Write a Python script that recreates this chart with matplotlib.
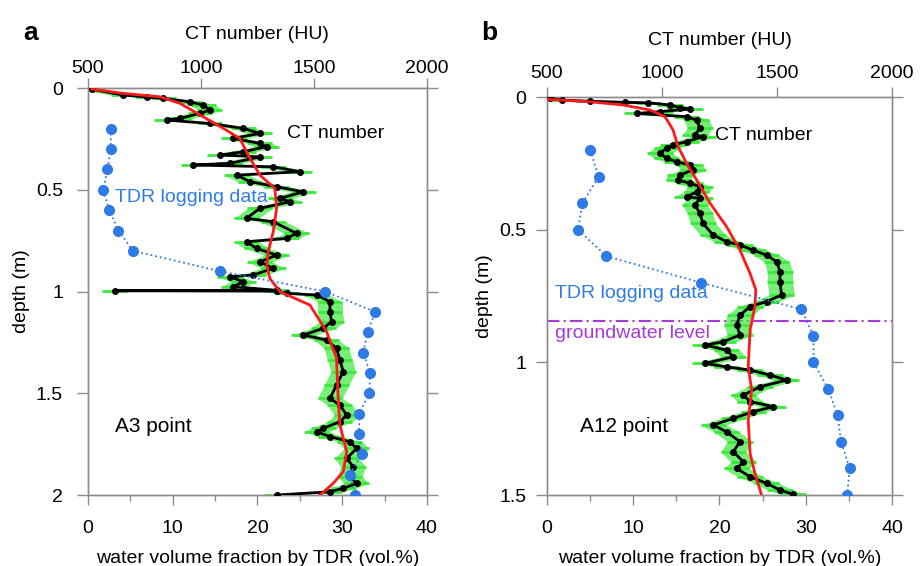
import numpy as np
import matplotlib.pyplot as plt

plt.rcParams['font.family'] = ['Liberation Sans', 'DejaVu Sans']

# ---- panel a (A3 point) ----
a_ct_depth = [0.006, 0.034, 0.044, 0.051, 0.067, 0.084, 0.108, 0.124, 0.149, 0.157,
              0.174, 0.198, 0.223, 0.247, 0.272, 0.288, 0.313, 0.329, 0.338, 0.37,
              0.378, 0.387, 0.411, 0.428, 0.46, 0.485, 0.51, 0.542, 0.559, 0.591,
              0.64, 0.657, 0.714, 0.739, 0.755, 0.788, 0.821, 0.854, 0.886, 0.919,
              0.927, 0.952, 0.976, 0.994, 0.996, 0.998, 1.009, 1.017, 1.05, 1.099,
              1.148, 1.181, 1.214, 1.238, 1.279, 1.337, 1.394, 1.459, 1.525, 1.558,
              1.607, 1.64, 1.672, 1.689, 1.713, 1.738, 1.771, 1.82, 1.861, 1.91,
              1.943, 1.967, 1.984, 2.0]
a_ct = [516, 655, 761, 833, 951, 1010, 1040, 996, 907, 848,
        1040, 1187, 1261, 1143, 1261, 1291, 1187, 1084, 1261, 1128,
        966, 1320, 1438, 1158, 1217, 1335, 1453, 1350, 1394, 1261,
        1202, 1320, 1423, 1379, 1202, 1246, 1335, 1261, 1320, 1231,
        1128, 1187, 1143, 1336, 619, 1336, 1379, 1512, 1571, 1571,
        1578, 1541, 1453, 1556, 1600, 1615, 1630, 1600, 1571, 1615,
        1645, 1615, 1541, 1512, 1571, 1659, 1689, 1645, 1674, 1659,
        1689, 1630, 1571, 1335]
a_fit_depth = [0.005, 0.026, 0.043, 0.075, 0.141, 0.198, 0.247, 0.329, 0.428, 0.493,
               0.591, 0.706, 0.804, 0.87, 0.935, 1.001, 1.066, 1.197, 1.327, 1.494,
               1.656, 1.787, 1.885, 1.943, 2.0]
a_fit = [517, 655, 819, 907, 1010, 1099, 1172, 1209, 1261, 1327,
         1335, 1320, 1298, 1291, 1305, 1350, 1482, 1556, 1600, 1606,
         1615, 1645, 1630, 1585, 1527]
a_tdr_depth = [0.2, 0.3, 0.4, 0.5, 0.6, 0.7, 0.8, 0.9, 1.0, 1.1,
               1.2, 1.3, 1.4, 1.5, 1.6, 1.7, 1.8, 1.9, 2.0]
a_tdr = [2.7, 2.7, 2.3, 1.8, 2.5, 3.6, 5.3, 15.6, 28.0, 33.9,
         33.0, 32.5, 33.3, 33.2, 32.0, 32.0, 32.3, 30.9, 31.5]

# ---- panel b (A12 point) ----
b_ct_depth = [0.005, 0.012, 0.016, 0.02, 0.022, 0.03, 0.04, 0.045, 0.055, 0.062,
              0.074, 0.087, 0.118, 0.143, 0.15, 0.168, 0.181, 0.193, 0.212, 0.231,
              0.244, 0.256, 0.275, 0.294, 0.313, 0.325, 0.338, 0.357, 0.376, 0.382,
              0.407, 0.438, 0.476, 0.52, 0.545, 0.558, 0.577, 0.596, 0.621, 0.658,
              0.696, 0.746, 0.771, 0.79, 0.822, 0.859, 0.897, 0.922, 0.935, 0.954,
              0.979, 1.004, 1.017, 1.029, 1.048, 1.067, 1.092, 1.123, 1.148, 1.167,
              1.186, 1.211, 1.236, 1.262, 1.299, 1.337, 1.375, 1.40, 1.431, 1.456,
              1.481, 1.498]
b_ct = [513, 564, 687, 839, 940, 1035, 1078, 1122, 991, 890,
        1107, 1151, 1165, 1143, 1178, 1107, 1048, 1020, 991, 1020,
        1064, 1122, 1135, 1078, 1071, 1122, 1165, 1151, 1107, 1165,
        1143, 1165, 1178, 1222, 1281, 1339, 1396, 1455, 1499, 1513,
        1513, 1520, 1455, 1383, 1339, 1325, 1339, 1267, 1187, 1281,
        1310, 1187, 1281, 1383, 1470, 1542, 1426, 1354, 1383, 1484,
        1397, 1310, 1223, 1281, 1339, 1310, 1354, 1325, 1383, 1455,
        1513, 1571]
b_fit_depth = [0.009, 0.018, 0.03, 0.049, 0.074, 0.124, 0.187, 0.25, 0.313, 0.40,
               0.489, 0.577, 0.665, 0.727, 0.79, 0.878, 1.017, 1.104, 1.218, 1.343,
               1.418, 1.5]
b_fit = [506, 687, 830, 948, 1013, 1048, 1070, 1107, 1151, 1209,
         1281, 1339, 1383, 1408, 1404, 1383, 1375, 1390, 1375, 1383,
         1404, 1433]
b_tdr_depth = [0.2, 0.3, 0.4, 0.5, 0.6, 0.7, 0.8, 0.9, 1.0, 1.1,
               1.2, 1.3, 1.4, 1.5]
b_tdr = [5.0, 6.0, 4.1, 3.6, 6.9, 17.9, 29.5, 30.9, 30.9, 32.6,
         33.7, 34.1, 35.1, 34.8]
b_groundwater = 0.843

ct_err = 55  # HU, approx error bar half width

gray = '#8c8c8c'
green = '#3de83d'
blue = '#2f7be6'
purple = '#a63ad6'

fig = plt.figure(figsize=(9.21, 5.66), dpi=100)


def make_panel(rect, ymax, yticks, top_pad, left_pad):
    ax = fig.add_axes(rect)
    ax.set_xlim(0, 40)
    ax.set_ylim(ymax, 0)
    ax.set_xticks([0, 10, 20, 30, 40])
    ax.set_xticks([5, 15, 25, 35], minor=True)
    ax.set_yticks(yticks)
    ax.set_yticklabels([('%g' % t) for t in yticks])
    ax.tick_params(axis='x', which='major', direction='out', length=7, width=1,
                   color=gray, labelsize=14, pad=11)
    ax.tick_params(axis='x', which='minor', direction='out', length=4, width=1, color=gray)
    ax.tick_params(axis='y', which='major', direction='out', length=8, width=1,
                   color=gray, labelsize=14, pad=left_pad, right=True, labelright=False)
    for s in ax.spines.values():
        s.set_color(gray)
        s.set_linewidth(1)
    ax.set_xlabel('water volume fraction by TDR (vol.%)', fontsize=14, labelpad=9)
    ax.set_ylabel('depth (m)', fontsize=14, labelpad=4)

    ax2 = ax.twiny()
    ax2.set_xlim(500, 2000)
    ax2.set_xticks([500, 1000, 1500, 2000])
    ax2.tick_params(axis='x', direction='out', length=7.5, width=1, color=gray,
                    labelsize=14, pad=top_pad)
    for s in ax2.spines.values():
        s.set_color(gray)
        s.set_linewidth(1)
    ax2.set_xlabel('CT number (HU)', fontsize=14, labelpad=15)
    ax2.set_ylim(ymax, 0)
    return ax, ax2


ax_a, ct_a = make_panel([0.0955, 0.1254, 0.368, 0.719], 2, [0, 0.5, 1, 1.5, 2], 0.5, 10)
ax_b, ct_b = make_panel([0.5939, 0.1254, 0.3746, 0.7032], 1.5, [0, 0.5, 1, 1.5], 3, 7)

for ax, ct, d, vals, fd, fv, td, tv in [
        (ax_a, ct_a, a_ct_depth, a_ct, a_fit_depth, a_fit, a_tdr_depth, a_tdr),
        (ax_b, ct_b, b_ct_depth, b_ct, b_fit_depth, b_fit, b_tdr_depth, b_tdr)]:
    vals = np.array(vals)
    ct.fill_betweenx(d, vals - ct_err, vals + ct_err, color=green, alpha=0.7,
                     lw=0, zorder=1)
    ct.errorbar(vals, d, xerr=ct_err, fmt='none', ecolor=green, elinewidth=2,
                capsize=0, zorder=2)
    ct.plot(vals, d, '-', color='black', lw=2, zorder=3)
    ct.plot(vals, d, 'o', color='black', ms=4, zorder=3)
    ct.plot(fv, fd, '-', color='#ff1a1a', lw=2, zorder=4)
    ct.plot(tv, td, ':', color=blue, lw=1.3, marker='o', ms=7,
            markerfacecolor=blue, markeredgecolor=blue, zorder=5,
            transform=ax.transData)

# groundwater level in panel b
ax_b.axhline(b_groundwater, color=purple, lw=1.5, ls=(0, (6, 2, 1, 2)), zorder=6)

# annotations
fig.text(0.025, 1 - 33 / 566, 'a', fontsize=19, fontweight='bold', va='center', ha='left')
fig.text(0.523, 1 - 33 / 566, 'b', fontsize=19, fontweight='bold', va='center', ha='left')

fig.text(287 / 921, 1 - 133 / 566, 'CT number', fontsize=14, va='center', ha='left')
fig.text(115 / 921, 1 - 198 / 566, 'TDR logging data', fontsize=14, va='center',
         ha='left', color=blue)
fig.text(115 / 921, 1 - 427 / 566, 'A3 point', fontsize=15, va='center', ha='left')

fig.text(715 / 921, 1 - 135 / 566, 'CT number', fontsize=14, va='center', ha='left')
fig.text(555 / 921, 1 - 293 / 566, 'TDR logging data', fontsize=14, va='center',
         ha='left', color=blue)
fig.text(555 / 921, 1 - 333 / 566, 'groundwater level', fontsize=14, va='center',
         ha='left', color=purple)
fig.text(580 / 921, 1 - 427 / 566, 'A12 point', fontsize=15, va='center', ha='left')

fig.savefig('out.png', dpi=100)
